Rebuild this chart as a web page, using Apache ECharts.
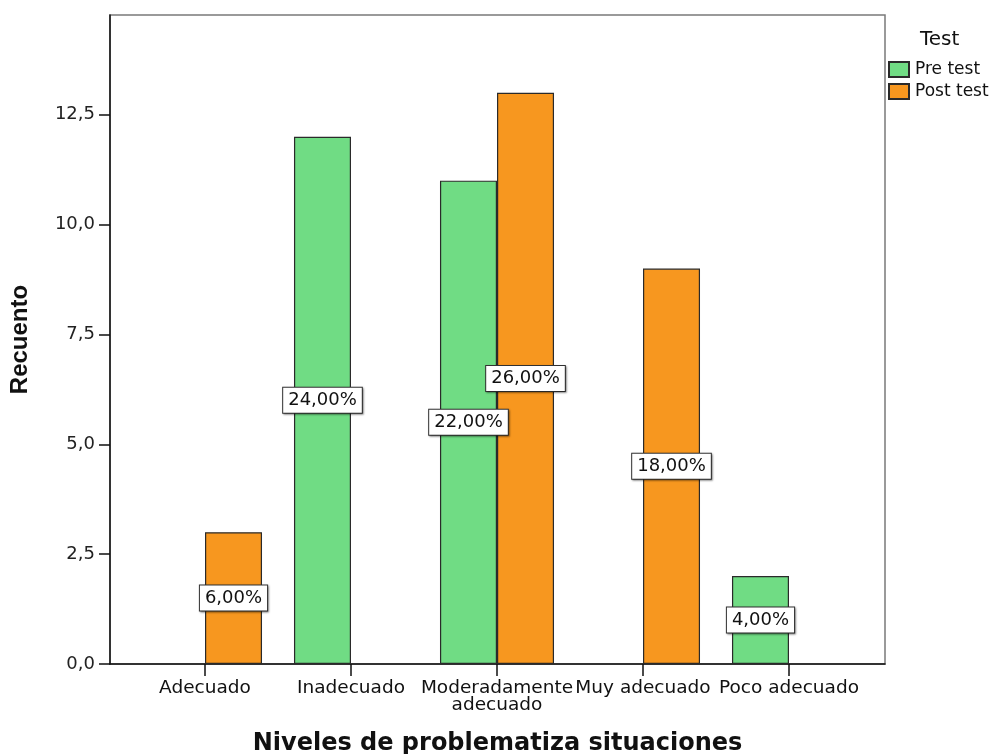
<!DOCTYPE html>
<html>
<head>
<meta charset="utf-8">
<script src="https://cdn.jsdelivr.net/npm/echarts@6/dist/echarts.min.js"></script>
<style>
  html, body { margin: 0; padding: 0; background: #ffffff; }
  #chart { width: 998px; height: 754px; }
</style>
</head>
<body>
<div id="chart"></div>
<script>
// Niveles de problematiza situaciones: counts per level, pre and post test
const categories = ['Adecuado', 'Inadecuado', 'Moderadamente\nadecuado', 'Muy adecuado', 'Poco adecuado'];
const preTest = [null, 12, 11, null, 2];
const postTest = [3, null, 13, 9, null];
const seriesNames = ['Pre test', 'Post test'];
const yTicks = [0, 2.5, 5, 7.5, 10, 12.5];

const total = [...preTest, ...postTest].reduce((s, v) => s + (v || 0), 0);
const comma = (v, d) => v.toFixed(d).replace('.', ',');

const FONT = 'DejaVu Sans';
const labelStyle = {
  show: true,
  position: 'inside',
  formatter: p => comma(p.value / total * 100, 2) + '%',
  fontFamily: FONT,
  fontSize: 18,
  color: '#111',
  backgroundColor: '#ffffff',
  borderColor: '#333',
  borderWidth: 1,
  padding: [4, 5, 3, 5],
  shadowColor: 'rgba(0,0,0,0.35)',
  shadowBlur: 2,
  shadowOffsetX: 1,
  shadowOffsetY: 1
};

const chart = echarts.init(document.getElementById('chart'));
chart.setOption({
  animation: false,
  backgroundColor: '#ffffff',
  title: {
    text: 'Test',
    left: 915,
    top: 25,
    textStyle: { fontFamily: FONT, fontSize: 20, fontWeight: 'normal', color: '#111' }
  },
  legend: {
    orient: 'vertical',
    left: 888,
    top: 61,
    padding: 0,
    itemWidth: 20,
    itemHeight: 15,
    itemGap: 5,
    icon: 'rect',
    textStyle: { fontFamily: FONT, fontSize: 17, color: '#111', padding: [0, 0, 0, 1] },
    data: seriesNames
  },
  grid: [
    { left: 110, right: 113, top: 15, bottom: 90, outerBoundsMode: 'none', containLabel: false,
      show: true, borderColor: '#7a7a7a', borderWidth: 1.5 },
    { left: 132, right: 136, top: 15, bottom: 90, outerBoundsMode: 'none', containLabel: false }
  ],
  xAxis: [
    {
      gridIndex: 0, type: 'value', min: 0, max: 1,
      axisLine: { show: true, lineStyle: { color: '#111', width: 1.5 } },
      axisTick: { show: false }, axisLabel: { show: false }, splitLine: { show: false },
      name: 'Niveles de problematiza situaciones',
      nameLocation: 'middle',
      nameGap: 68,
      nameTextStyle: { fontFamily: FONT, fontSize: 24, fontWeight: 'bold', color: '#111' }
    },
    {
      gridIndex: 1, type: 'category', data: categories,
      axisLine: { show: false },
      axisTick: { show: true, alignWithLabel: true, length: 12, lineStyle: { color: '#111', width: 1.5 } },
      axisLabel: { interval: 0, margin: 16, fontFamily: FONT, fontSize: 18.5, color: '#111', lineHeight: 17 }
    }
  ],
  yAxis: [
    {
      gridIndex: 0, type: 'value', min: 0, max: 14.77,
      axisLine: { show: true, lineStyle: { color: '#111', width: 1.5 } },
      axisTick: { show: true, length: 11, customValues: yTicks, lineStyle: { color: '#111', width: 1.5 } },
      axisLabel: {
        customValues: yTicks, margin: 15,
        fontFamily: FONT, fontSize: 18, color: '#222',
        formatter: v => comma(v, 1)
      },
      splitLine: { show: false },
      name: 'Recuento',
      nameLocation: 'middle',
      nameGap: 78,
      nameTextStyle: { fontFamily: 'Liberation Sans', fontSize: 24, fontWeight: 'bold', color: '#111' }
    },
    {
      gridIndex: 1, type: 'value', min: 0, max: 14.77, show: false
    }
  ],
  series: [
    {
      name: seriesNames[0], type: 'bar', xAxisIndex: 1, yAxisIndex: 1,
      data: preTest,
      barGap: '0%', barCategoryGap: '21.9%',
      itemStyle: { color: '#70dc84', borderColor: '#2a2a2a', borderWidth: 1.2 },
      label: labelStyle
    },
    {
      name: seriesNames[1], type: 'bar', xAxisIndex: 1, yAxisIndex: 1,
      data: postTest,
      barGap: '0%', barCategoryGap: '21.9%',
      itemStyle: { color: '#f7971f', borderColor: '#2a2a2a', borderWidth: 1.2 },
      label: labelStyle
    }
  ]
});
</script>
</body>
</html>
